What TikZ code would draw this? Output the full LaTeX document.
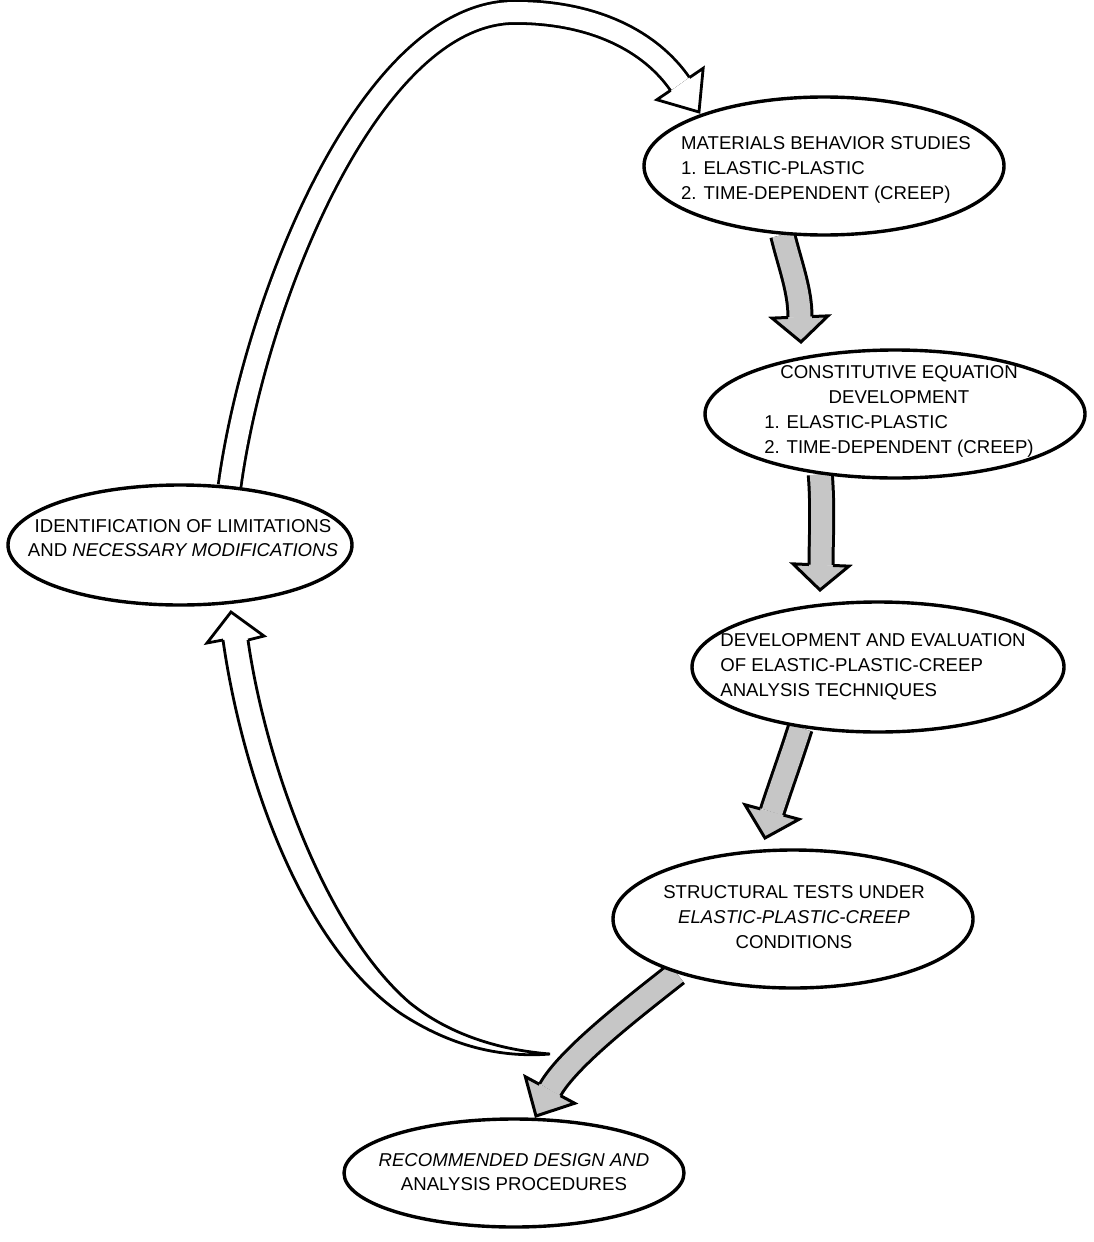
\documentclass[tikz,border=0pt]{standalone}
\usepackage{fontspec}
\setmainfont{Liberation Sans}
\usetikzlibrary{shapes.geometric,calc,backgrounds}

\begin{document}
\begin{tikzpicture}[x=0.5pt, y=-0.5pt,
        stage/.style={ellipse, draw, line width=1.7pt, fill=white, inner sep=0pt},
        words/.style={font=\fontsize{9.3}{12.4}\selectfont, inner sep=0pt},
        shaft/.style={line width=1.5pt, double=gray!45, double distance=10.5pt},
        fathead/.style={line width=1.5pt, fill=gray!45, line join=miter},
        hollow/.style={line width=1.4pt, double=white, double distance=10pt},
        hollowline/.style={line width=1.4pt, line join=miter}]
        \useasboundingbox (0,0) rectangle (1093,1242);

        % 椭圆 (各阶段)
        \node[stage, minimum width=180pt, minimum height=69pt] (mat) at (824,166) {};
        \node[words, align=left] (mat-t) at (826,170) {MATERIALS BEHAVIOR STUDIES\\1. ELASTIC-PLASTIC\\2. TIME-DEPENDENT (CREEP)};

        \node[stage, minimum width=190pt, minimum height=64pt] (con) at (895,414) {};
        \node[words] (con-t) at (899,411) {\begin{tabular}{@{}l@{}}\multicolumn{1}{@{}c@{}}{CONSTITUTIVE EQUATION}\\\multicolumn{1}{@{}c@{}}{DEVELOPMENT}\\1. ELASTIC-PLASTIC\\2. TIME-DEPENDENT (CREEP)\end{tabular}};

        \node[stage, minimum width=186pt, minimum height=65pt] (dev) at (878,667) {};
        \node[words, align=left, anchor=west] (dev-t) at (720,667) {DEVELOPMENT AND EVALUATION\\OF ELASTIC-PLASTIC-CREEP\\ANALYSIS TECHNIQUES};

        \node[stage, minimum width=180pt, minimum height=69pt] (str) at (793,919) {};
        \node[words, align=center] (str-t) at (794,917) {STRUCTURAL TESTS UNDER\\\itshape ELASTIC-PLASTIC-CREEP\\CONDITIONS};

        \node[stage, minimum width=170pt, minimum height=54pt] (rec) at (514,1173) {};
        \node[words, align=center] (rec-t) at (514,1172) {\itshape RECOMMENDED DESIGN AND\\ANALYSIS PROCEDURES};

        \node[stage, minimum width=172pt, minimum height=60pt] (idf) at (180,545) {};
        \node[words, align=center] (idf-t) at (183,538) {IDENTIFICATION OF LIMITATIONS\\AND {\itshape NECESSARY MODIFICATIONS}};

        % 箭头端点
        \coordinate (b1) at (800,317); \coordinate (t1) at (801,342);
        \coordinate (b2) at (821,565); \coordinate (t2) at (820,590);
        \coordinate (b3) at (772,812); \coordinate (t3) at (765,838);
        \coordinate (b4) at (550,1090); \coordinate (t4) at (536,1116);
        \coordinate (b5) at (680,84);  \coordinate (t5) at (699,112);
        \coordinate (t6) at (231,612); \coordinate (tl) at (550,1054);

        \begin{scope}[on background layer]
        % 灰色粗箭头
        \draw[shaft] (mat.239) .. controls (790,265) and (800,290) .. (b1);
        \filldraw[fathead] ($(b1)!6pt!90:(t1)$) -- ($(b1)!14pt!90:(t1)$) -- (t1) -- ($(b1)!14pt!-90:(t1)$) -- ($(b1)!6pt!-90:(t1)$);
        \draw[shaft] (con.219) .. controls (823,510) and (821,540) .. (b2);
        \filldraw[fathead] ($(b2)!6pt!90:(t2)$) -- ($(b2)!14pt!90:(t2)$) -- (t2) -- ($(b2)!14pt!-90:(t2)$) -- ($(b2)!6pt!-90:(t2)$);
        \draw[shaft] (dev.218) .. controls (790,760) and (779,790) .. (b3);
        \filldraw[fathead] ($(b3)!6pt!90:(t3)$) -- ($(b3)!14pt!90:(t3)$) -- (t3) -- ($(b3)!14pt!-90:(t3)$) -- ($(b3)!6pt!-90:(t3)$);
        \draw[shaft] (str.205) .. controls (630,1010) and (568,1058) .. (b4);
        \filldraw[fathead] ($(b4)!6pt!90:(t4)$) -- ($(b4)!14pt!90:(t4)$) -- (t4) -- ($(b4)!14pt!-90:(t4)$) -- ($(b4)!6pt!-90:(t4)$);

        % 空心回路箭头 (上)
        \draw[hollow] (idf.50) .. controls (255,300) and (370,12) .. (515,12) .. controls (595,12) and (651,42) .. (b5);
        \draw[hollowline] ($(b5)!5.7pt!90:(t5)$) -- ($(b5)!14pt!90:(t5)$) -- (t5) -- ($(b5)!14pt!-90:(t5)$) -- ($(b5)!5.7pt!-90:(t5)$);

        % 空心回路箭头 (下), 尾部收尖
        \draw[hollowline] (223,640) .. controls (240,760) and (295,940) .. (400,1013)
            .. controls (450,1046) and (500,1058) .. (tl)
            .. controls (500,1050) and (450,1035) .. (410,1003)
            .. controls (325,930) and (265,760) .. (248,640);
        \draw[hollowline] (223,640) -- (207,643) -- (t6) -- (264,636) -- (248,640);
        \end{scope}

    \end{tikzpicture}
\end{document}
